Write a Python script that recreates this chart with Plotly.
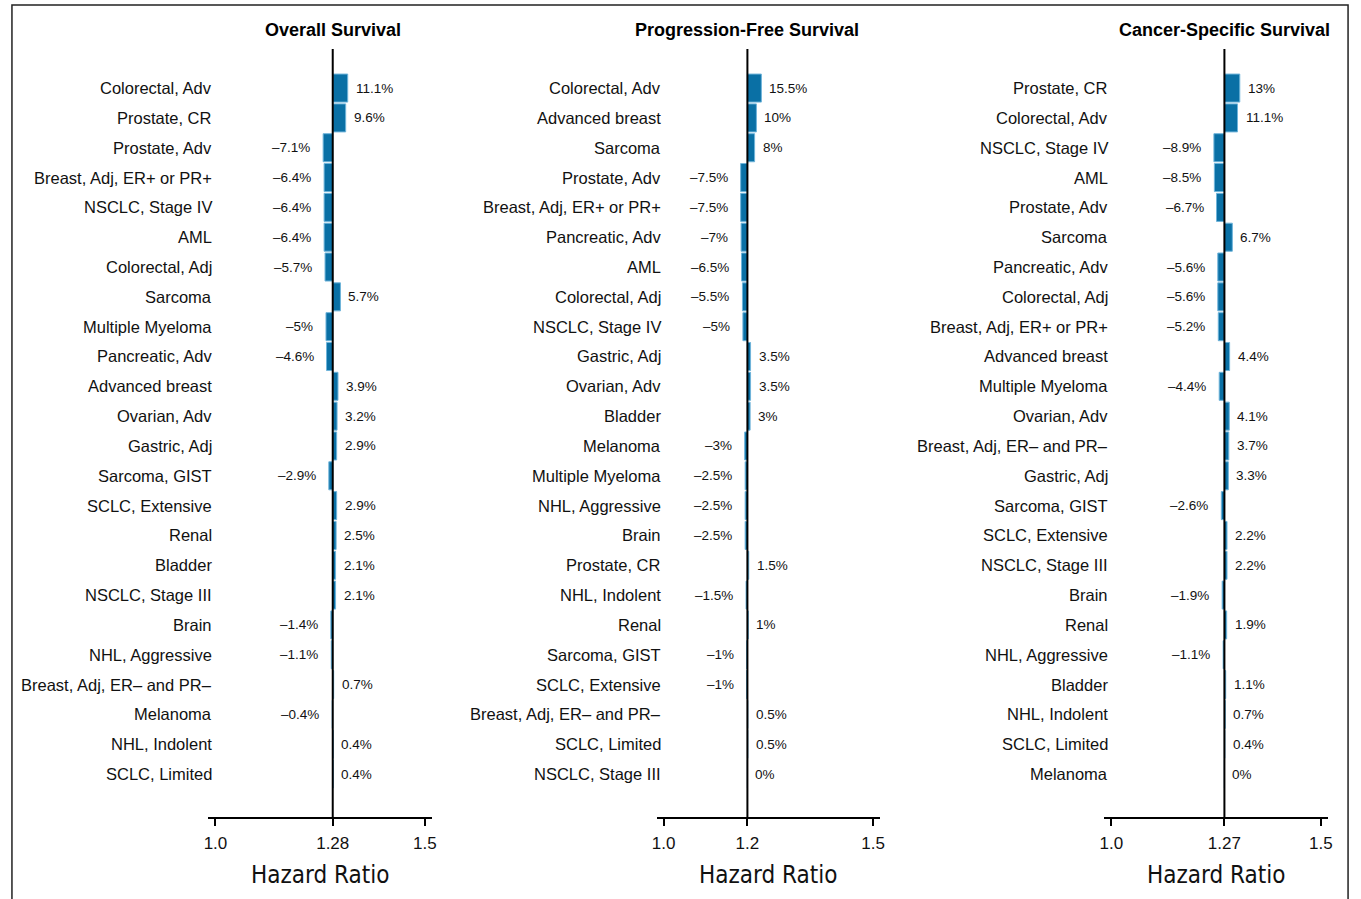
import plotly.graph_objects as go

# ---- data: percentage change per disease setting, one list pair per endpoint ----
os_labels = [
    "Colorectal, Adv", "Prostate, CR", "Prostate, Adv", "Breast, Adj, ER+ or PR+",
    "NSCLC, Stage IV", "AML", "Colorectal, Adj", "Sarcoma", "Multiple Myeloma",
    "Pancreatic, Adv", "Advanced breast", "Ovarian, Adv", "Gastric, Adj",
    "Sarcoma, GIST", "SCLC, Extensive", "Renal", "Bladder", "NSCLC, Stage III",
    "Brain", "NHL, Aggressive", "Breast, Adj, ER– and PR–", "Melanoma",
    "NHL, Indolent", "SCLC, Limited",
]
os_pct = [11.1, 9.6, -7.1, -6.4, -6.4, -6.4, -5.7, 5.7, -5, -4.6, 3.9, 3.2, 2.9,
          -2.9, 2.9, 2.5, 2.1, 2.1, -1.4, -1.1, 0.7, -0.4, 0.4, 0.4]

pfs_labels = [
    "Colorectal, Adv", "Advanced breast", "Sarcoma", "Prostate, Adv",
    "Breast, Adj, ER+ or PR+", "Pancreatic, Adv", "AML", "Colorectal, Adj",
    "NSCLC, Stage IV", "Gastric, Adj", "Ovarian, Adv", "Bladder", "Melanoma",
    "Multiple Myeloma", "NHL, Aggressive", "Brain", "Prostate, CR", "NHL, Indolent",
    "Renal", "Sarcoma, GIST", "SCLC, Extensive", "Breast, Adj, ER– and PR–",
    "SCLC, Limited", "NSCLC, Stage III",
]
pfs_pct = [15.5, 10, 8, -7.5, -7.5, -7, -6.5, -5.5, -5, 3.5, 3.5, 3, -3, -2.5,
           -2.5, -2.5, 1.5, -1.5, 1, -1, -1, 0.5, 0.5, 0]

css_labels = [
    "Prostate, CR", "Colorectal, Adv", "NSCLC, Stage IV", "AML", "Prostate, Adv",
    "Sarcoma", "Pancreatic, Adv", "Colorectal, Adj", "Breast, Adj, ER+ or PR+",
    "Advanced breast", "Multiple Myeloma", "Ovarian, Adv", "Breast, Adj, ER– and PR–",
    "Gastric, Adj", "Sarcoma, GIST", "SCLC, Extensive", "NSCLC, Stage III", "Brain",
    "Renal", "NHL, Aggressive", "Bladder", "NHL, Indolent", "SCLC, Limited", "Melanoma",
]
css_pct = [13, 11.1, -8.9, -8.5, -6.7, 6.7, -5.6, -5.6, -5.2, 4.4, -4.4, 4.1, 3.7,
           3.3, -2.6, 2.2, 2.2, -1.9, 1.9, -1.1, 1.1, 0.7, 0.4, 0]

tick_vals = [1.0, 1.5]
tick_text = ["1.0", "1.5"]

panels = [
    dict(title="Overall Survival", ref=1.28, reftext="1.28",
         labels=os_labels, pct=os_pct, scale=0.00322, px=(205, 430)),
    dict(title="Progression-Free Survival", ref=1.2, reftext="1.2",
         labels=pfs_labels, pct=pfs_pct, scale=0.00215, px=(656.5, 881.5)),
    dict(title="Cancer-Specific Survival", ref=1.27, reftext="1.27",
         labels=css_labels, pct=css_pct, scale=0.00282, px=(1107.5, 1332.5)),
]

W, H = 1361, 899
FONT = "Liberation Sans, Arial, Helvetica, sans-serif"
NARROW = "DejaVu Sans Condensed, DejaVu Sans, sans-serif"
BAR = "#0a70a5"
BAR_EDGE = "#6fb4da"

pad = 7 / 422.0
x_range = [1.0 - pad, 1.5 + pad]
y_top_px, y_bot_px = 49, 817
y_dom = [(H - y_bot_px) / H, (H - y_top_px) / H]
y_range = [24.44, -1.31]


def fmt(v):
    s = f"{v:g}%"
    return s.replace("-", "–")


fig = go.Figure()
annotations = []
shapes = []
layout_axes = {}

for i, p in enumerate(panels):
    n = "" if i == 0 else str(i + 1)
    xa, ya = "x" + n, "y" + n
    rows = list(range(len(p["labels"])))
    lengths = [v * p["scale"] for v in p["pct"]]

    fig.add_trace(go.Bar(
        y=rows, x=lengths, base=p["ref"], orientation="h", width=0.94,
        marker=dict(color=BAR, line=dict(color=BAR_EDGE, width=1)),
        xaxis=xa, yaxis=ya, hoverinfo="skip", showlegend=False,
    ))

    layout_axes["xaxis" + n] = dict(
        domain=[p["px"][0] / W, p["px"][1] / W], range=x_range, anchor=ya,
        tickvals=[tick_vals[0], p["ref"], tick_vals[1]],
        ticktext=[tick_text[0], p["reftext"], tick_text[1]],
        ticks="outside", ticklen=7, tickwidth=1.5, tickcolor="black",
        ticklabelstandoff=3,
        showline=True, linewidth=2, linecolor="black",
        showgrid=False, zeroline=False,
        tickfont=dict(family=FONT, size=17, color="#111"),
    )
    layout_axes["yaxis" + n] = dict(
        domain=y_dom, range=y_range, anchor=xa, visible=False,
        showgrid=False, zeroline=False,
    )

    # reference hazard ratio line
    shapes.append(dict(type="line", xref=xa, yref=ya + " domain",
                       x0=p["ref"], x1=p["ref"], y0=0, y1=1,
                       line=dict(color="black", width=2)))

    # panel title centred on the reference line
    annotations.append(dict(
        xref=xa, yref="paper", x=p["ref"], y=(H - 30) / H, xanchor="center",
        yanchor="middle", showarrow=False, text="<b>" + p["title"] + "</b>",
        font=dict(family=FONT, size=18, color="black"),
    ))
    # axis title
    annotations.append(dict(
        xref=xa + " domain", yref="paper", x=0.5, y=(H - 875) / H,
        xanchor="center", yanchor="middle", showarrow=False, text="Hazard Ratio",
        font=dict(family=NARROW, size=24, color="#111"),
    ))

    for r, lab, v, ln in zip(rows, p["labels"], p["pct"], lengths):
        annotations.append(dict(
            xref=xa, yref=ya, x=1.0, y=r, xanchor="right", yanchor="middle",
            xshift=-1, showarrow=False, text=lab,
            font=dict(family=FONT, size=16.5, color="#111"),
        ))
        end = p["ref"] + ln
        annotations.append(dict(
            xref=xa, yref=ya, x=end, y=r,
            xanchor="left" if v >= 0 else "right", yanchor="middle",
            xshift=6 if v >= 0 else -11, showarrow=False, text=fmt(v),
            font=dict(family=FONT, size=13.5, color="#111"),
        ))

# outer frame
shapes.append(dict(type="rect", xref="paper", yref="paper",
                   x0=7 / W, x1=1353 / W, y0=-0.02, y1=(H - 5) / H,
                   line=dict(color="#222", width=1.5), fillcolor="rgba(0,0,0,0)"))

fig.update_layout(
    width=W, height=H, margin=dict(l=0, r=0, t=0, b=0),
    paper_bgcolor="white", plot_bgcolor="white",
    showlegend=False, bargap=0.06,
    annotations=annotations, shapes=shapes,
    **layout_axes,
)

fig.write_html("out.html")
